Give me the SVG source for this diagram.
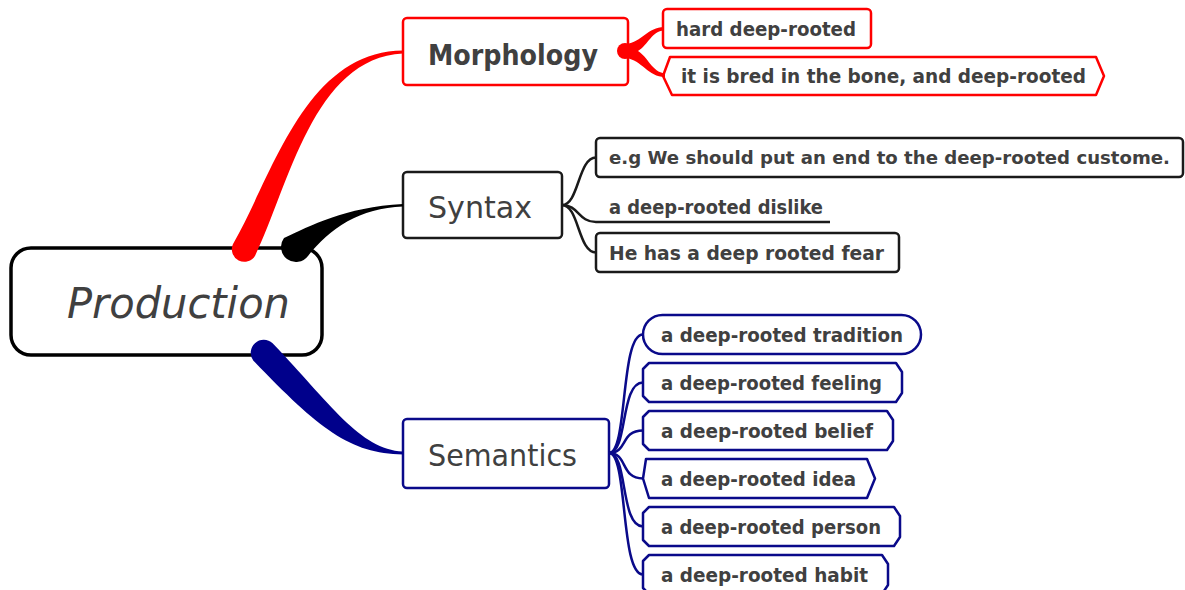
<svg xmlns="http://www.w3.org/2000/svg" width="1185" height="590" viewBox="0 0 1185 590">
<style>
  text { font-family: "DejaVu Sans", "Liberation Sans", sans-serif; fill: #404040; }
  .leaf { font-size: 19px; font-weight: bold; }
  .main { font-size: 31px; }
  .red { fill: #fff; stroke: #ff0000; stroke-width: 2.5; stroke-linejoin: round; }
  .blk { fill: #fff; stroke: #1a1a1a; stroke-width: 2.5; stroke-linejoin: round; }
  .nav { fill: #fff; stroke: #0a0a8a; stroke-width: 2.5; stroke-linejoin: round; }
  .lnb { fill: none; stroke: #1a1a1a; stroke-width: 2.5; }
  .lnn { fill: none; stroke: #0a0a8a; stroke-width: 2.5; }
</style>
<rect width="1185" height="590" fill="#fff"/>
<g id="production">
  <rect x="11" y="248" width="311" height="107" rx="20" fill="#fff" stroke="#000" stroke-width="3.5"/>
  <text x="67" y="318" font-size="42" font-style="italic" textLength="223" lengthAdjust="spacingAndGlyphs">Production</text>
</g>
<g id="morphology">
  <rect class="red" x="403" y="18" width="225" height="67" rx="4"/>
  <text x="428" y="65" font-size="29" font-weight="bold" textLength="170" lengthAdjust="spacingAndGlyphs">Morphology</text>
</g>
<g id="m1">
  <rect class="red" x="663" y="9" width="208" height="39" rx="4"/>
  <text class="leaf" x="676" y="35.5" textLength="180" lengthAdjust="spacingAndGlyphs">hard deep-rooted</text>
</g>
<g id="m2">
  <polygon class="red" points="670,57 1096,57 1104,76 1096,95 672,95 663,76"/>
  <text class="leaf" x="681" y="83" textLength="405" lengthAdjust="spacingAndGlyphs">it is bred in the bone, and deep-rooted</text>
</g>
<g id="syntax">
  <rect class="blk" x="403" y="172" width="159" height="66" rx="4"/>
  <text class="main" x="428" y="218" textLength="104" lengthAdjust="spacingAndGlyphs">Syntax</text>
</g>
<g id="s1">
  <rect class="blk" x="596" y="138" width="587" height="39" rx="4"/>
  <text x="609" y="164" style="font-size:17.5px;font-weight:bold" textLength="561" lengthAdjust="spacingAndGlyphs">e.g We should put an end to the deep-rooted custome.</text>
</g>
<g id="s2">
  <text class="leaf" x="609" y="213.5" textLength="214" lengthAdjust="spacingAndGlyphs">a deep-rooted dislike</text>
</g>
<g id="s3">
  <rect class="blk" x="596" y="233" width="303" height="39" rx="4"/>
  <text class="leaf" x="609" y="259.5" textLength="275" lengthAdjust="spacingAndGlyphs">He has a deep rooted fear</text>
</g>
<g id="semantics">
  <rect class="nav" x="403" y="419" width="206" height="69" rx="4"/>
  <text class="main" x="428" y="466" textLength="149" lengthAdjust="spacingAndGlyphs">Semantics</text>
</g>
<g id="e1">
  <rect class="nav" x="643" y="315" width="278" height="39" rx="19.5"/>
  <text class="leaf" x="661" y="342" textLength="242" lengthAdjust="spacingAndGlyphs">a deep-rooted tradition</text>
</g>
<g id="e2">
  <polygon class="nav" points="649,363 896,363 902,372 902,393 896,402 649,402 643,396 643,369"/>
  <text class="leaf" x="661" y="390" textLength="221" lengthAdjust="spacingAndGlyphs">a deep-rooted feeling</text>
</g>
<g id="e3">
  <polygon class="nav" points="649,411 887,411 893,420 893,441 887,450 649,450 643,444 643,417"/>
  <text class="leaf" x="661" y="438" textLength="212" lengthAdjust="spacingAndGlyphs">a deep-rooted belief</text>
</g>
<g id="e4">
  <polygon class="nav" points="646,459 867,459 875,478.5 867,498 649,498 643,478.5"/>
  <text class="leaf" x="661" y="486" textLength="195" lengthAdjust="spacingAndGlyphs">a deep-rooted idea</text>
</g>
<g id="e5">
  <polygon class="nav" points="649,507 894,507 900,516 900,537 894,546 649,546 643,540 643,513"/>
  <text class="leaf" x="661" y="534" textLength="220" lengthAdjust="spacingAndGlyphs">a deep-rooted person</text>
</g>
<g id="e6">
  <polygon class="nav" points="649,555 882,555 888,564 888,585 882,594 649,594 643,588 643,561"/>
  <text class="leaf" x="661" y="582" textLength="207" lengthAdjust="spacingAndGlyphs">a deep-rooted habit</text>
</g>
<g id="connectors">
  <path d="M232.9,244.3 C272,177 305,51 403,50.5 L403,53.5 C313,58 289,186 255.1,255.7 A12.5 12.5 0 0 1 232.9,244.3 Z" fill="#ff0000"/>
  <path d="M284,238 C310,226 345,207 403,204 L403,206.5 C360,208 330,228 308,256 A15 15 0 0 1 284,238 Z" fill="#000"/>
  <path d="M272.6,343.3 C330,403 360,450 403,451.5 L403,454.5 C350,454 318,428 253.4,360.7 A13 13 0 0 1 272.6,343.3 Z" fill="#00008b"/>
  <circle cx="625" cy="51" r="8" fill="#ff0000"/>
  <path d="M626,44 C642,42 648,27 664,27 L664,30.5 C652,31 648,45 638,51 C648,57 652,72 665,73.5 L665,77 C648,77 642,60 626,58 Z" fill="#ff0000"/>
  <path class="lnb" d="M562,205 C579,205 578,157.5 596,157.5"/>
  <path class="lnb" d="M562,205 C579,205 578,222 596,222 L830,222"/>
  <path class="lnb" d="M562,205 C579,205 578,252.5 596,252.5"/>
  <path class="lnn" d="M609,453 C628,453 620,334.5 643,334.5"/>
  <path class="lnn" d="M609,453 C628,453 620,382.5 643,382.5"/>
  <path class="lnn" d="M609,453 C628,453 620,430.5 643,430.5"/>
  <path class="lnn" d="M609,453 C628,453 620,478.5 643,478.5"/>
  <path class="lnn" d="M609,453 C628,453 620,526.5 643,526.5"/>
  <path class="lnn" d="M609,453 C628,453 620,574.5 643,574.5"/>
</g>
</svg>
